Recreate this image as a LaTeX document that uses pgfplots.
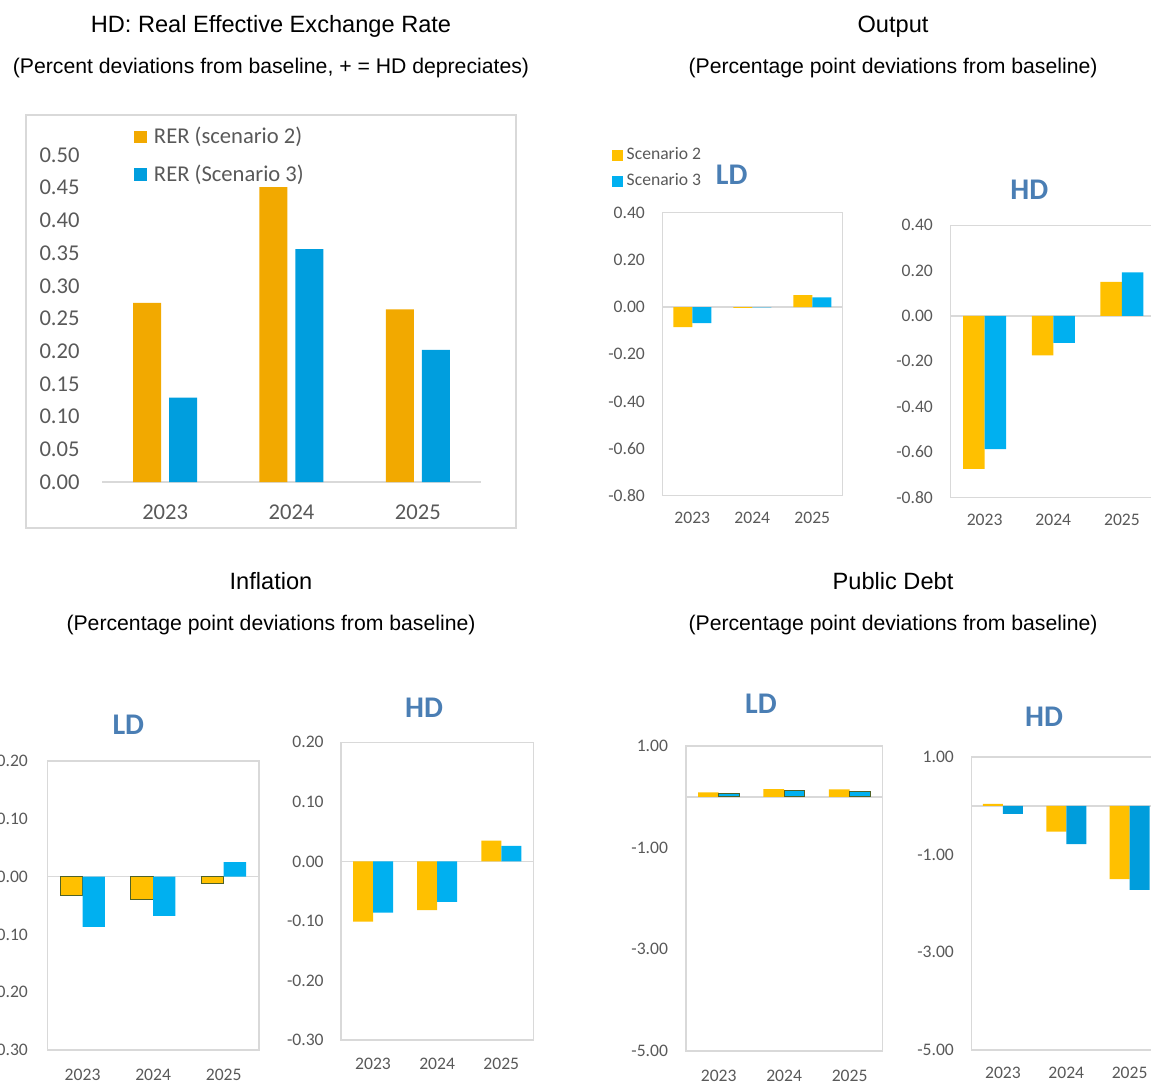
\documentclass[border=0pt]{standalone}
\usepackage{pgfplots}
\pgfplotsset{compat=1.18}
\usepackage{fontspec}
\setmainfont{Liberation Sans}
\newfontfamily\calibri{Carlito}

\definecolor{rerorange}{RGB}{242,169,0}
\definecolor{rerblue}{RGB}{0,158,222}
\definecolor{yel}{RGB}{255,192,0}
\definecolor{sky}{RGB}{0,176,240}
\definecolor{deepsky}{RGB}{0,157,220}
\definecolor{framegray}{RGB}{217,217,217}
\definecolor{ticktext}{RGB}{89,89,89}
\definecolor{ldblue}{RGB}{74,126,180}
\definecolor{olive}{RGB}{79,98,40}

\pgfplotsset{
  panel/.style={
    scale only axis, ybar=0pt,
    xmin=-0.5, xmax=2.5,
    xtick={0,1,2}, xticklabels={2023,2024,2025},
    axis line style={draw=framegray, line width=0.7pt},
    major tick length=0pt, tick style={draw=none},
    tick label style={font=\calibri\fontsize{8.8}{10}\selectfont, text=ticktext, inner sep=0pt},
    yticklabel style={anchor=east, xshift=-8.5pt},
    xticklabel style={anchor=center},
  },
}
\newcommand{\zeroline}{\draw[framegray, line width=0.7pt] (axis cs:-0.5,0) -- (axis cs:2.5,0);}

\begin{document}
\begin{tikzpicture}[x=0.5pt,y=-0.5pt]
\path[use as bounding box] (0,0) rectangle (1151,1082);
\clip (0,0) rectangle (1151,1082);

% titles
\begin{scope}[every node/.style={inner sep=0pt, anchor=base}]
\node[font=\fontsize{11.8}{14}\selectfont] at (271,32.5) {HD: Real Effective Exchange Rate};
\node[font=\fontsize{10.6}{13}\selectfont] at (271,73) {(Percent deviations from baseline, + = HD depreciates)};
\node[font=\fontsize{11.8}{14}\selectfont] at (893,32.5) {Output};
\node[font=\fontsize{10.6}{13}\selectfont] at (893,73) {(Percentage point deviations from baseline)};
\node[font=\fontsize{11.8}{14}\selectfont] at (271,589.5) {Inflation};
\node[font=\fontsize{10.6}{13}\selectfont] at (271,630) {(Percentage point deviations from baseline)};
\node[font=\fontsize{11.8}{14}\selectfont] at (893,589.5) {Public Debt};
\node[font=\fontsize{10.6}{13}\selectfont] at (893,630) {(Percentage point deviations from baseline)};
\end{scope}

% LD / HD tags
\begin{scope}[every node/.style={inner sep=0pt, text=ldblue, font=\calibri\bfseries\fontsize{15}{18}\selectfont}]
\node at (731.7,175) {LD};
\node at (1029.3,190) {HD};
\node at (128.3,725) {LD};
\node at (424,708) {HD};
\node at (761,704) {LD};
\node at (1044,717) {HD};
\end{scope}

\draw[framegray, line width=1pt] (26,115) rectangle (516,528);

\coordinate (rer) at (102,482);
\coordinate (outLD) at (662.3,495.7);
\coordinate (outHD) at (950.3,497.3);
\coordinate (infLD) at (47.3,1050);
\coordinate (infHD) at (341,1040);
\coordinate (debtLD) at (686,1051);
\coordinate (debtHD) at (971.3,1050);

% HD: real effective exchange rate
\begin{axis}[panel, at={(rer)}, anchor=south west,
  width=189.5pt, height=163.5pt,
  axis line style={draw=none},
  ymin=0, ymax=0.5,
  ytick={0,0.05,0.1,0.15,0.2,0.25,0.3,0.35,0.4,0.45,0.5},
  yticklabels={0.00,0.05,0.10,0.15,0.20,0.25,0.30,0.35,0.40,0.45,0.50},
  tick label style={font=\calibri\fontsize{11.3}{13}\selectfont},
  yticklabel style={xshift=-2.5pt}, xticklabel style={yshift=-15pt},
  ybar=4pt, bar width=14pt,
  legend style={at={(0.0844,1.098)}, anchor=north west, draw=none, fill=none,
    inner sep=0pt, font=\calibri\fontsize{11.3}{13}\selectfont, text=ticktext,
    row sep=5pt, /tikz/every odd column/.append style={column sep=1.5pt}},
  legend cell align=left,
  legend image code/.code={\fill[#1] (0pt,-3.15pt) rectangle (6.3pt,3.15pt);},
]
\zeroline
\addplot[fill=rerorange, draw=none] coordinates {(0,0.274) (1,0.451) (2,0.264)};
\addplot[fill=rerblue, draw=none] coordinates {(0,0.129) (1,0.356) (2,0.202)};
\legend{RER (scenario 2),RER (Scenario 3)}
\end{axis}

% Output LD
\begin{axis}[panel, at={(outLD)}, anchor=south west,
  width=90pt, height=141.5pt,
  ymin=-0.8, ymax=0.4,
  ytick={-0.8,-0.6,-0.4,-0.2,0,0.2,0.4},
  yticklabels={-0.80,-0.60,-0.40,-0.20,0.00,0.20,0.40},
  xticklabel style={yshift=-11.3pt},
  bar width=9.5pt,
  legend style={at={(-0.281,1.245)}, anchor=north west, draw=none, fill=none,
    inner sep=0pt, font=\calibri\fontsize{8.8}{10}\selectfont, text=ticktext,
    row sep=1.5pt, /tikz/every odd column/.append style={column sep=0pt}},
  legend cell align=left,
  legend image code/.code={\fill[#1] (0pt,-2.65pt) rectangle (5.3pt,2.65pt);},
]
\zeroline
\addplot[fill=yel, draw=none] coordinates {(0,-0.085) (1,-0.004) (2,0.050)};
\addplot[fill=sky, draw=none] coordinates {(0,-0.068) (1,-0.001) (2,0.041)};
\legend{Scenario 2,Scenario 3}
\end{axis}

% Output HD
\begin{axis}[panel, at={(outHD)}, anchor=south west,
  width=103pt, height=136pt,
  ymin=-0.8, ymax=0.4,
  ytick={-0.8,-0.6,-0.4,-0.2,0,0.2,0.4},
  yticklabels={-0.80,-0.60,-0.40,-0.20,0.00,0.20,0.40},
  xticklabel style={yshift=-11.35pt},
  bar width=10.75pt,
]
\zeroline
\addplot[fill=yel, draw=none] coordinates {(0,-0.675) (1,-0.174) (2,0.151)};
\addplot[fill=sky, draw=none] coordinates {(0,-0.587) (1,-0.119) (2,0.192)};
\end{axis}

% Inflation LD
\begin{axis}[panel, at={(infLD)}, anchor=south west,
  width=105.85pt, height=144.5pt,
  ymin=-0.3, ymax=0.2,
  ytick={-0.3,-0.2,-0.1,0,0.1,0.2},
  yticklabels={-0.30,-0.20,-0.10,0.00,0.10,0.20},
  yticklabel style={xshift=-1pt},
  xticklabel style={yshift=-12.5pt},
  bar width=11.15pt,
]
\zeroline
\addplot[fill=yel, draw=olive, line width=0.5pt] coordinates {(0,-0.033) (1,-0.039) (2,-0.012)};
\addplot[fill=sky, draw=none] coordinates {(0,-0.087) (1,-0.068) (2,0.025)};
\end{axis}

% Inflation HD
\begin{axis}[panel, at={(infHD)}, anchor=south west,
  width=96.15pt, height=148.85pt,
  ymin=-0.3, ymax=0.2,
  ytick={-0.3,-0.2,-0.1,0,0.1,0.2},
  yticklabels={-0.30,-0.20,-0.10,0.00,0.10,0.20},
  xticklabel style={yshift=-11.7pt},
  bar width=10pt,
]
\zeroline
\addplot[fill=yel, draw=none] coordinates {(0,-0.101) (1,-0.082) (2,0.035)};
\addplot[fill=sky, draw=none] coordinates {(0,-0.086) (1,-0.068) (2,0.026)};
\end{axis}

% Public debt LD
\begin{axis}[panel, at={(debtLD)}, anchor=south west,
  width=98.15pt, height=152.5pt,
  ymin=-5, ymax=1,
  ytick={-5,-3,-1,1},
  yticklabels={-5.00,-3.00,-1.00,1.00},
  yticklabel style={xshift=-0.3pt},
  xticklabel style={yshift=-12.4pt},
  bar width=10.35pt,
]
\zeroline
\addplot[fill=yel, draw=none] coordinates {(0,0.087) (1,0.151) (2,0.146)};
\addplot[fill=sky, draw=olive, line width=0.5pt] coordinates {(0,0.059) (1,0.118) (2,0.112)};
\end{axis}

% Public debt HD
\begin{axis}[panel, at={(debtHD)}, anchor=south west,
  width=95pt, height=146.5pt,
  ymin=-5, ymax=1,
  ytick={-5,-3,-1,1},
  yticklabels={-5.00,-3.00,-1.00,1.00},
  xticklabel style={yshift=-11.25pt},
  bar width=10pt,
]
\zeroline
\addplot[fill=yel, draw=none] coordinates {(0,0.04) (1,-0.526) (2,-1.50)};
\addplot[fill=deepsky, draw=none] coordinates {(0,-0.166) (1,-0.785) (2,-1.72)};
\end{axis}
\end{tikzpicture}
\end{document}
